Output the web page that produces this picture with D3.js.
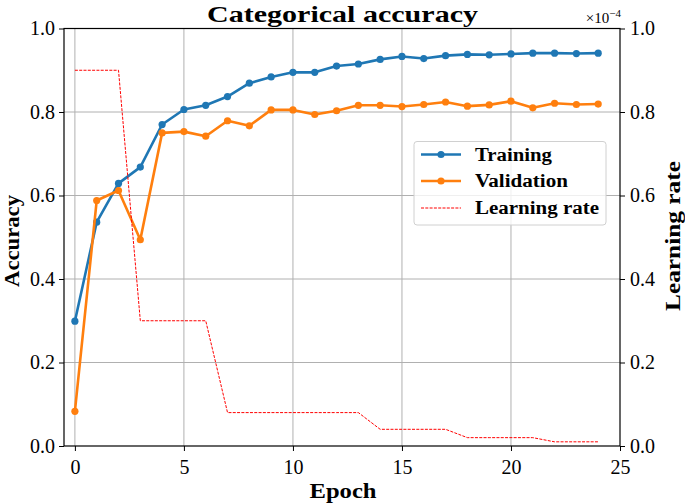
<!DOCTYPE html>
<html>
<head>
<meta charset="utf-8">
<script src="https://cdn.jsdelivr.net/npm/d3@7"></script>
<style>
  html, body { margin: 0; padding: 0; background: #fff; }
  svg { display: block; }
  text { font-family: "Liberation Serif", "DejaVu Serif", serif; fill: #000; }
</style>
</head>
<body>
<svg id="chart" width="685" height="503"></svg>
<script>
// ---- data ----
const epochs = d3.range(0, 25);
const training = [0.299, 0.536, 0.629, 0.668, 0.770, 0.806, 0.816, 0.837, 0.869, 0.884,
                  0.895, 0.895, 0.910, 0.915, 0.926, 0.933, 0.928, 0.935, 0.938, 0.937,
                  0.939, 0.941, 0.941, 0.940, 0.941];
const validation = [0.083, 0.588, 0.612, 0.494, 0.750, 0.753, 0.742, 0.779, 0.767, 0.805,
                    0.805, 0.794, 0.803, 0.816, 0.816, 0.813, 0.818, 0.824, 0.814, 0.817,
                    0.826, 0.810, 0.821, 0.818, 0.819];
// learning rate in units of 1e-4
const learningRate = [0.9, 0.9, 0.9, 0.3, 0.3, 0.3, 0.3, 0.08, 0.08, 0.08,
                      0.08, 0.08, 0.08, 0.08, 0.04, 0.04, 0.04, 0.04, 0.02, 0.02,
                      0.02, 0.02, 0.01, 0.01, 0.01];
const xTicks = [0, 5, 10, 15, 20, 25];
const yTicks = [0, 0.2, 0.4, 0.6, 0.8, 1.0];
const legendLabels = ["Training", "Validation", "Learning rate"];

// ---- layout ----
const svg = d3.select("#chart");
const L = 64, R = 620, T = 28.5, B = 446;
const x = d3.scaleLinear().domain([-0.5, 25]).range([L, R]);
const y = d3.scaleLinear().domain([0, 1]).range([B, T]);
const y2 = d3.scaleLinear().domain([0, 1]).range([B, T]);

const gridColor = "#b0b0b0";
const blue = "#1f77b4", orange = "#ff7f0e";

// grid
const grid = svg.append("g");
grid.selectAll("line.vx").data(xTicks.filter(d => d < 25)).join("line")
  .attr("x1", d => x(d)).attr("x2", d => x(d)).attr("y1", T).attr("y2", B)
  .attr("stroke", gridColor).attr("stroke-width", 1);
grid.selectAll("line.hy").data(yTicks.filter(d => d > 0 && d < 1)).join("line")
  .attr("x1", L).attr("x2", R).attr("y1", d => y(d)).attr("y2", d => y(d))
  .attr("stroke", gridColor).attr("stroke-width", 1);

// axes
const tickFont = "20px";
const gx = svg.append("g").attr("transform", `translate(0,${B})`)
  .call(d3.axisBottom(x).tickValues(xTicks).tickFormat(d3.format("d")).tickSize(5).tickPadding(4));
const gy = svg.append("g").attr("transform", `translate(${L},0)`)
  .call(d3.axisLeft(y).tickValues(yTicks).tickFormat(d3.format(".1f")).tickSize(5).tickPadding(4));
const gy2 = svg.append("g").attr("transform", `translate(${R},0)`)
  .call(d3.axisRight(y2).tickValues(yTicks).tickFormat(d3.format(".1f")).tickSize(5).tickPadding(5));
[gx, gy, gy2].forEach(g => {
  g.select(".domain").remove();
  g.selectAll(".tick line").attr("stroke", "#000").attr("stroke-width", 1);
  g.selectAll(".tick text").style("font-size", tickFont).attr("fill", "#000")
    .style("font-family", '"Liberation Serif", serif');
});
gx.selectAll(".tick text").attr("dy", "0.95em");

// lines
const lineGen = d => d3.line().x((v, i) => x(epochs[i])).y(v => y(v))(d);
svg.append("path").attr("d", lineGen(training)).attr("fill", "none")
  .attr("stroke", blue).attr("stroke-width", 2.6).attr("stroke-linejoin", "round");
svg.append("g").selectAll("circle").data(training).join("circle")
  .attr("cx", (v, i) => x(epochs[i])).attr("cy", v => y(v)).attr("r", 3.6).attr("fill", blue);
svg.append("path").attr("d", lineGen(validation)).attr("fill", "none")
  .attr("stroke", orange).attr("stroke-width", 2.6).attr("stroke-linejoin", "round");
svg.append("g").selectAll("circle").data(validation).join("circle")
  .attr("cx", (v, i) => x(epochs[i])).attr("cy", v => y(v)).attr("r", 3.6).attr("fill", orange);
svg.append("path")
  .attr("d", d3.line().x((v, i) => x(epochs[i])).y(v => y2(v))(learningRate))
  .attr("fill", "none").attr("stroke", "#ff0000").attr("stroke-width", 1)
  .attr("stroke-dasharray", "3,1.3");

// frame
svg.append("rect").attr("x", L).attr("y", T).attr("width", R - L).attr("height", B - T)
  .attr("fill", "none").attr("stroke", "#000").attr("stroke-width", 1.2);

// title & labels
svg.append("text").attr("x", (L + R) / 2 + 0.5).attr("y", 21.5).attr("text-anchor", "middle")
  .style("font-size", "24px").style("font-weight", "bold")
  .attr("textLength", 271).attr("lengthAdjust", "spacingAndGlyphs").text("Categorical accuracy");
svg.append("text").attr("x", 343).attr("y", 498).attr("text-anchor", "middle")
  .style("font-size", "21px").style("font-weight", "bold")
  .attr("textLength", 67).attr("lengthAdjust", "spacingAndGlyphs").text("Epoch");
svg.append("text").attr("transform", `translate(19,${241}) rotate(-90)`)
  .attr("text-anchor", "middle").style("font-size", "20px").style("font-weight", "bold")
  .attr("textLength", 92).attr("lengthAdjust", "spacingAndGlyphs").text("Accuracy");
svg.append("text").attr("transform", `translate(680,${236}) rotate(-90)`)
  .attr("text-anchor", "middle").style("font-size", "20px").style("font-weight", "bold")
  .attr("textLength", 150).attr("lengthAdjust", "spacingAndGlyphs").text("Learning rate");

// offset text
const off = svg.append("text").attr("x", 621).attr("y", 23).attr("text-anchor", "end").style("font-size", "15px");
off.append("tspan").text("×10");
off.append("tspan").attr("dy", -6).style("font-size", "11px").text("−4");

// legend
const lg = svg.append("g");
lg.append("rect").attr("x", 414).attr("y", 141.5).attr("width", 192).attr("height", 83.5)
  .attr("rx", 3).attr("fill", "#fff").attr("fill-opacity", 0.8)
  .attr("stroke", "#d0d0d0").attr("stroke-width", 1);
const rows = [154.5, 181, 208];
const textWidths = [77, 93, 124];
const styles = [
  { c: blue, w: 2.6, dash: null, marker: true },
  { c: orange, w: 2.6, dash: null, marker: true },
  { c: "#ff0000", w: 1, dash: "3,1.3", marker: false }
];
legendLabels.forEach((lab, i) => {
  const s = styles[i];
  lg.append("line").attr("x1", 421).attr("x2", 461).attr("y1", rows[i]).attr("y2", rows[i])
    .attr("stroke", s.c).attr("stroke-width", s.w).attr("stroke-dasharray", s.dash);
  if (s.marker) lg.append("circle").attr("cx", 441).attr("cy", rows[i]).attr("r", 3.6).attr("fill", s.c);
  lg.append("text").attr("x", 475).attr("y", rows[i] + 6).style("font-size", "18px")
    .style("font-weight", "bold").attr("textLength", textWidths[i])
    .attr("lengthAdjust", "spacingAndGlyphs").text(lab);
});
</script>
</body>
</html>
